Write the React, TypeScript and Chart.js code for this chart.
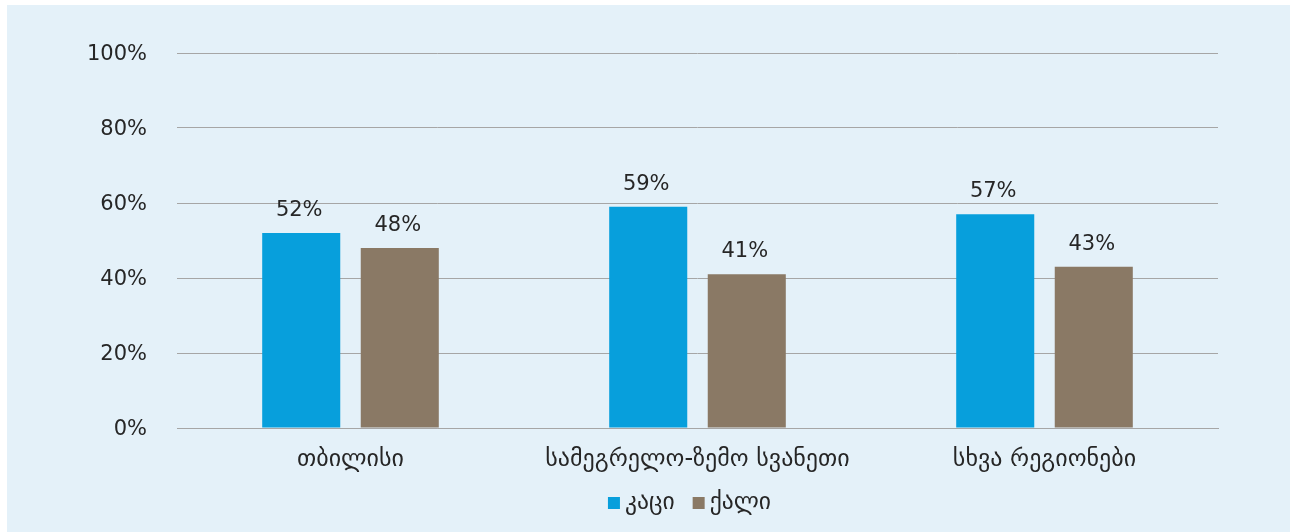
import React, { useEffect, useRef } from "react";
import { Chart, registerables } from "chart.js";

Chart.register(...registerables);

const categories = ["თბილისი", "სამეგრელო-ზემო სვანეთი", "სხვა რეგიონები"];
const menValues = [52, 59, 57];
const womenValues = [48, 41, 43];
const seriesNames = ["კაცი", "ქალი"];
const yTicks = [0, 20, 40, 60, 80, 100];

const BLUE = "#079FDC";
const BROWN = "#8A7965";
const TEXT = "#262626";
const GRID = "#A6A6A6";
const FONT = "'DejaVu Sans', sans-serif";

const valueLabels = {
  id: "valueLabels",
  afterDatasetsDraw(chart: any) {
    const ctx = chart.ctx;
    ctx.save();
    ctx.font = `21px ${FONT}`;
    ctx.fillStyle = TEXT;
    ctx.textAlign = "center";
    ctx.textBaseline = "alphabetic";
    chart.data.datasets.forEach((ds: any, i: number) => {
      const meta = chart.getDatasetMeta(i);
      meta.data.forEach((bar: any, j: number) => {
        ctx.fillText(`${ds.data[j]}%`, bar.x - 2, bar.y - 17);
      });
    });
    ctx.restore();
  },
};

const customLegend = {
  id: "customLegend",
  afterDraw(chart: any) {
    const ctx = chart.ctx;
    ctx.save();
    ctx.font = `23.6px ${FONT}`;
    ctx.textBaseline = "middle";
    ctx.textAlign = "left";
    const box = 12;
    const gapText = 5;
    const gapItem = 18;
    const items = chart.data.datasets.map((ds: any) => ({
      label: ds.label,
      color: ds.backgroundColor,
      w: box + gapText + ctx.measureText(ds.label).width,
    }));
    const total = items.reduce((s: number, it: any) => s + it.w, 0) + gapItem * (items.length - 1);
    const cx = (chart.chartArea.left + chart.chartArea.right) / 2 - 8;
    let x = cx - total / 2;
    const y = 498;
    items.forEach((it: any) => {
      ctx.fillStyle = it.color;
      ctx.fillRect(x, y - box / 2, box, box);
      ctx.fillStyle = TEXT;
      ctx.fillText(it.label, x + box + gapText, y);
      x += it.w + gapItem;
    });
    ctx.restore();
  },
};

export default function App() {
  const ref = useRef<HTMLCanvasElement>(null);
  useEffect(() => {
    if (!ref.current) return;
    const chart = new Chart(ref.current, {
      type: "bar",
      data: {
        labels: categories,
        datasets: [
          {
            label: seriesNames[0],
            data: menValues,
            backgroundColor: BLUE,
            categoryPercentage: 0.568,
            barPercentage: 0.792,
          },
          {
            label: seriesNames[1],
            data: womenValues,
            backgroundColor: BROWN,
            categoryPercentage: 0.568,
            barPercentage: 0.792,
          },
        ],
      },
      options: {
        animation: false,
        responsive: false,
        maintainAspectRatio: false,
        layout: { padding: { left: 0, right: 72, top: 48, bottom: 0 } },
        plugins: {
          legend: { display: false },
          tooltip: { enabled: false },
        },
        scales: {
          x: {
            grid: { display: false, drawTicks: false },
            border: { display: true, color: GRID, width: 1 },
            ticks: {
              color: TEXT,
              font: { family: FONT, size: 24 },
              padding: 17,
              maxRotation: 0,
            },
            afterFit: (scale: any) => {
              scale.height = 104;
            },
          },
          y: {
            min: 0,
            max: 100,
            afterBuildTicks: (scale: any) => {
              scale.ticks = yTicks.map((v) => ({ value: v }));
            },
            grid: { color: GRID, lineWidth: 1, drawTicks: false },
            border: { display: false },
            ticks: {
              color: TEXT,
              font: { family: FONT, size: 21 },
              padding: 30,
              labelOffset: 2,
              callback: (v: any) => `${v}%`,
            },
            afterFit: (scale: any) => {
              scale.width = 170;
            },
          },
        },
      },
      plugins: [valueLabels, customLegend],
    });
    return () => chart.destroy();
  }, []);
  return (
    <div
      style={{
        position: "absolute",
        left: 7,
        top: 5,
        width: 1283,
        height: 527,
        background: "#E4F1F9",
      }}
    >
      <canvas ref={ref} width={1283} height={527} style={{ display: "block" }} />
    </div>
  );
}
